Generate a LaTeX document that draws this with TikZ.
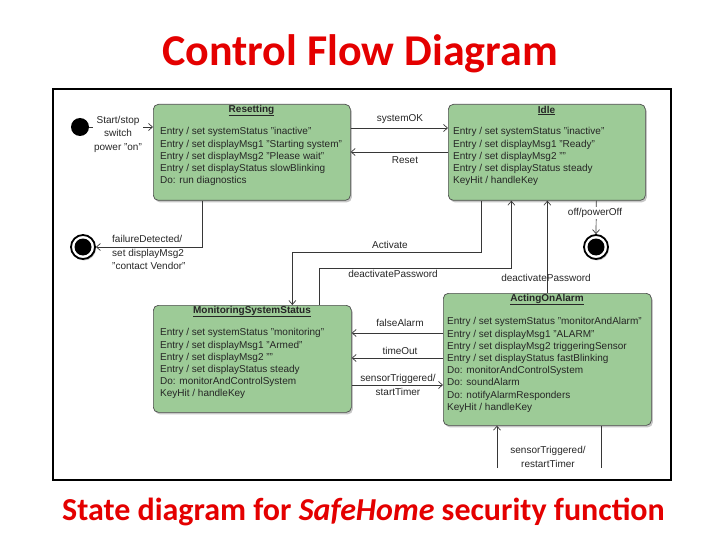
\documentclass[tikz,border=0pt]{standalone}
\usepackage{fontspec}
\setmainfont{Liberation Sans}
\newfontfamily\carlito{Carlito}
\usetikzlibrary{arrows.meta,shadows,calc}
\definecolor{boxgreen}{RGB}{157,203,151}
\definecolor{titlered}{RGB}{228,0,0}
\definecolor{linegray}{RGB}{55,55,55}
\tikzset{
  stbox/.style={draw=black!70, line width=0.7pt, fill=boxgreen, rounded corners=5pt,
    drop shadow={shadow xshift=1.5pt, shadow yshift=-2pt, opacity=0.45},
    anchor=north west, inner sep=0pt},
  sttitle/.style={font=\fontsize{10}{12}\selectfont\bfseries, inner sep=0pt, text=black!85},
  stbody/.style={font=\fontsize{10}{12.2}\selectfont, align=left, inner sep=0pt, anchor=north west, text=black!85},
  arr/.style={draw=linegray, line width=0.7pt, -{Straight Barb[length=4pt,width=7pt]}},
  plain/.style={draw=linegray, line width=0.7pt},
  lab/.style={font=\fontsize{10}{13.5}\selectfont, inner sep=1pt, text=black!85, align=center},
  initst/.style={circle, fill=black, minimum size=18pt, inner sep=0pt},
  finalst/.style={circle, draw=black, line width=1.8pt, fill=white, minimum size=24pt, inner sep=0pt,
    drop shadow={shadow xshift=1pt, shadow yshift=-1.5pt, opacity=0.45},
    path picture={\fill[black] (path picture bounding box.center) circle (8.5pt);}}
}
\begin{document}
\begin{tikzpicture}[x=1pt,y=-1pt]
\useasboundingbox (0,0) rectangle (720,540);
% title and caption
\node[text=titlered, font=\carlito\bfseries\fontsize{44}{50}\selectfont, inner sep=0pt] (title) at (360,54) {Control Flow Diagram};
\node[text=titlered, font=\carlito\bfseries\fontsize{32}{38}\selectfont, inner sep=0pt] (caption) at (363.5,512) {State diagram for \textit{SafeHome} security function};
% frame
\node[draw=black, line width=2pt, minimum width=618pt, minimum height=391pt, anchor=north west, inner sep=0pt] (frame) at (52,88) {};

% states
\node[stbox, minimum width=197pt, minimum height=96pt] (reset) at (153,104) {};
\node[sttitle] (resetT) at (251.5,110.5) {\underline{Resetting}};
\node[stbody] (resetB) at (160,127.5) {Entry / set systemStatus "inactive"\\Entry / set displayMsg1 "Starting system"\\Entry / set displayMsg2 "Please wait"\\Entry / set displayStatus slowBlinking\\Do: run diagnostics};

\node[stbox, minimum width=197pt, minimum height=96pt] (idle) at (448,104) {};
\node[sttitle] (idleT) at (546.5,110.5) {\underline{Idle}};
\node[stbody] (idleB) at (453,127.5) {Entry / set systemStatus "inactive"\\Entry / set displayMsg1 "Ready"\\Entry / set displayMsg2 ""\\Entry / set displayStatus steady\\KeyHit / handleKey};

\node[stbox, minimum width=198pt, minimum height=107pt] (mon) at (153,305) {};
\node[sttitle] (monT) at (252,311.5) {\underline{MonitoringSystemStatus}};
\node[stbody] (monB) at (160,328.5) {Entry / set systemStatus "monitoring"\\Entry / set displayMsg1 "Armed"\\Entry / set displayMsg2 ""\\Entry / set displayStatus steady\\Do: monitorAndControlSystem\\KeyHit / handleKey};

\node[stbox, minimum width=208pt, minimum height=132pt] (alarm) at (443,293) {};
\node[sttitle] (alarmT) at (547,299.5) {\underline{ActingOnAlarm}};
\node[stbody] (alarmB) at (447,317.5) {Entry / set systemStatus "monitorAndAlarm"\\Entry / set displayMsg1 "ALARM"\\Entry / set displayMsg2 triggeringSensor\\Entry / set displayStatus fastBlinking\\Do: monitorAndControlSystem\\Do: soundAlarm\\Do: notifyAlarmResponders\\KeyHit / handleKey};

% pseudo states
\node[initst] (init) at (80,127) {};
\node[finalst] (finL) at (83,247) {};
\node[finalst] (finR) at (596,247) {};

% connectors
\draw[arr] (init) -- (init -| reset.west);
\node[lab, fill=white] (lStart) at (118,134) {Start/stop\\switch\\power "on"};

\draw[arr] ([yshift=-24pt]reset.north east) -- ([yshift=-24pt]idle.north west);
\node[lab] (lOK) at (400,119) {systemOK};
\draw[arr] ([yshift=-48pt]idle.north west) -- ([yshift=-48pt]reset.north east);
\node[lab] (lReset) at (405,160) {Reset};

\draw[arr] ([xshift=-49.5pt]reset.south) |- (finL.east);
\node[lab, align=left, anchor=west] (lFail) at (111,252.5) {failureDetected/\\set displayMsg2\\"contact Vendor"};

\draw[arr] ([xshift=-65.5pt]idle.south) -- ++(0,52) -| ([xshift=40pt]mon.north);
\node[lab] (lAct) at (390,245) {Activate};

\draw[arr] ([xshift=67pt]mon.north) -- ++(0,-37) -| ([xshift=-35.5pt]idle.south);
\node[lab] (lDeact1) at (393,274) {deactivatePassword};

\draw[arr] (alarm.north) -- (alarm.north |- idle.south);
\node[lab] (lDeact2) at (546,278) {deactivatePassword};

\draw[arr] ([xshift=49.5pt]idle.south) -- (finR.north);
\node[lab, fill=white] (lOff) at (595,213) {off/powerOff};

\draw[arr] ([yshift=-40pt]alarm.north west) -- ([yshift=-28pt]mon.north east);
\node[lab] (lFalse) at (400,323) {falseAlarm};
\draw[arr] ([yshift=-65pt]alarm.north west) -- ([yshift=-53pt]mon.north east);
\node[lab] (lTime) at (400,351) {timeOut};
\draw[arr] ([yshift=-80pt]mon.north east) -- ([yshift=-92pt]alarm.north west);
\node[lab] (lSensor) at (398,385) {sensorTriggered/\\startTimer};

\coordinate (loopL) at (497,468);
\coordinate (loopR) at (601,468);
\draw[arr] (loopL) -- (loopL |- alarm.south);
\draw[plain] (loopR |- alarm.south) -- (loopR);
\node[lab] (lRestart) at (548,457) {sensorTriggered/\\restartTimer};
\end{tikzpicture}
\end{document}
